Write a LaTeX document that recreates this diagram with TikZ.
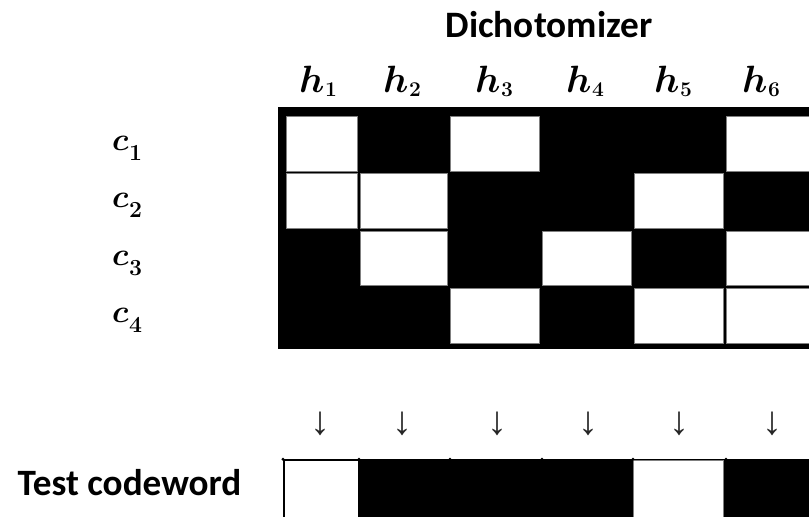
\RequirePackage{fix-cm}
\documentclass[tikz,border=0pt]{standalone}
\usepackage{amsmath,bm}
\usepackage{fontspec}
\newfontfamily\calib{Carlito}
\newfontfamily\arrowfont{Liberation Serif}
\definecolor{cellline}{RGB}{128,128,128}
\newcommand{\hlabel}[1]{{\fontsize{38}{40}\selectfont$\bm{h}$}\kern0.5pt\raisebox{-4pt}{\fontsize{21}{22}\selectfont\bfseries #1}}
\newcommand{\clabel}[1]{{\fontsize{32}{34}\selectfont$\bm{c}$}\kern0.5pt\raisebox{-10pt}{\fontsize{23}{24}\selectfont\bfseries #1}}
\tikzset{
  wcell/.style={fill=white,draw=cellline,line width=1pt},
  bgfill/.style={fill=black},
  title/.style={font=\calib\bfseries\fontsize{37.3}{44}\selectfont,inner sep=0pt,anchor=base},
  rowtitle/.style={font=\calib\bfseries\fontsize{37.2}{42}\selectfont,inner sep=0pt,anchor=base west},
  hlab/.style={inner sep=0pt,anchor=base},
  clab/.style={inner sep=0pt,anchor=base west},
  arr/.style={font=\arrowfont\fontsize{40}{44}\selectfont,inner sep=0pt,text=black!85},
  tick/.style={fill=black}
}
\begin{document}
\begin{tikzpicture}[x=1pt,y=-1pt]
\useasboundingbox (0,0) rectangle (809,517);
\clip (0,0) rectangle (809,517);
% matrix background
\fill[bgfill] (278,107) rectangle (840,349);
% row 1
\draw[wcell] (286.5,116.5) rectangle (357.5,171.5);
\draw[wcell] (450.5,116.5) rectangle (539.5,171.5);
\draw[wcell] (726.5,116.5) rectangle (830,171.5);
% row 2
\draw[wcell] (286.5,173.5) rectangle (357.5,228.5);
\draw[wcell] (360.5,173.5) rectangle (447.5,228.5);
\draw[wcell] (634.5,173.5) rectangle (723.5,228.5);
% row 3
\draw[wcell] (360.5,231.5) rectangle (447.5,285.5);
\draw[wcell] (542.5,231.5) rectangle (631.5,285.5);
\draw[wcell] (726.5,231.5) rectangle (830,285.5);
% row 4
\draw[wcell] (450.5,288.5) rectangle (539.5,343.5);
\draw[wcell] (634.5,288.5) rectangle (723.5,343.5);
\draw[wcell] (726.5,288.5) rectangle (830,343.5);
% test codeword row
\fill[bgfill] (283,459) rectangle (840,540);
\draw[fill=white,draw=black,line width=1.6pt] (284,460) rectangle (359,540);
\draw[fill=white,draw=cellline,line width=1pt] (633.5,460.5) rectangle (723.5,540);
\draw[black,line width=1.2pt] (283,459.6) -- (840,459.6);
\foreach \x in {283,359,450,542,633,726} \fill[tick] (\x,459.2) circle (1.6);
% titles
\node[title] (dich) at (549,37) {Dichotomizer};
\node[rowtitle] (test) at (17.5,495) {Test codeword};
% column labels
\node[hlab] (h1) at (318,92.5) {\hlabel{1}};
\node[hlab] (h2) at (402,92.5) {\hlabel{2}};
\node[hlab] (h3) at (494,92.5) {\hlabel{3}};
\node[hlab] (h4) at (585,92.5) {\hlabel{4}};
\node[hlab] (h5) at (673,92.5) {\hlabel{5}};
\node[hlab] (h6) at (761,92.5) {\hlabel{6}};
% row labels
\node[clab] (c1) at (112,150) {\clabel{1}};
\node[clab] (c2) at (112,207.5) {\clabel{2}};
\node[clab] (c3) at (112,265) {\clabel{3}};
\node[clab] (c4) at (112,322.5) {\clabel{4}};
% arrows
\node[arr] (a1) at (320,424) {↓};
\node[arr] (a2) at (402,424) {↓};
\node[arr] (a3) at (497,424) {↓};
\node[arr] (a4) at (588,424) {↓};
\node[arr] (a5) at (679,424) {↓};
\node[arr] (a6) at (772,424) {↓};
\end{tikzpicture}
\end{document}
